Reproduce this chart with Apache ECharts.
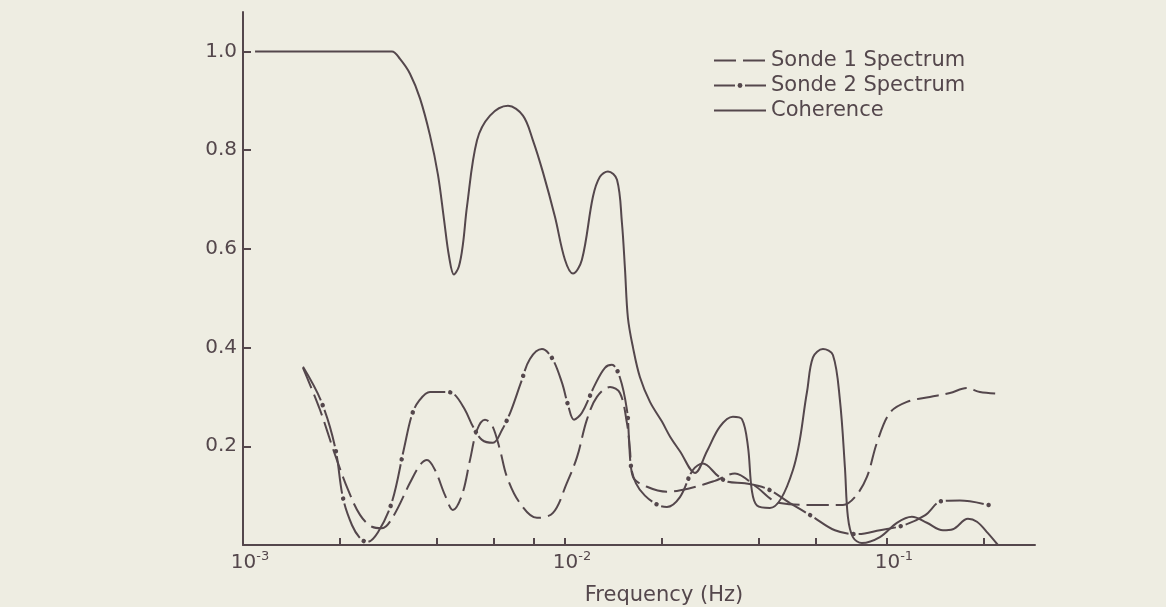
<!DOCTYPE html>
<html>
<head>
<meta charset="utf-8">
<script src="https://cdn.jsdelivr.net/npm/echarts@6/dist/echarts.min.js"></script>
<style>
  html, body { margin: 0; padding: 0; background: #eeede2; }
  #chart { width: 1166px; height: 607px; }
</style>
</head>
<body>
<div id="chart"></div>
<script>
// Frequencies in Hz, values dimensionless (spectra normalised, coherence 0..1)
const coherenceFreq = [0.00109, 0.0029, 0.003073, 0.003301, 0.003546, 0.003809, 0.004033, 0.00421, 0.004364, 0.004521,
  0.004686, 0.004822, 0.004963,
  0.005332, 0.00585, 0.006653, 0.007406, 0.007953, 0.008546, 0.00931, 0.0100, 0.01059, 0.01129,
  0.01222, 0.01284, 0.0136, 0.01451, 0.01503, 0.01536, 0.01569, 0.01627, 0.0171, 0.01837,
  0.02001, 0.02119, 0.02276, 0.02534, 0.02761, 0.03029, 0.03324, 0.03545, 0.03701, 0.03807,
  0.03948, 0.04331, 0.05107, 0.05646, 0.05893, 0.06329, 0.06797, 0.07145, 0.07405, 0.07566,
  0.07841, 0.08362, 0.09513, 0.1074, 0.1196, 0.1331, 0.1493, 0.1603, 0.1785, 0.1904,
  0.2059, 0.2212];
const coherence = [1.0, 1.0, 0.985, 0.955, 0.905, 0.83, 0.75, 0.66, 0.585, 0.548,
  0.565, 0.61, 0.686,
  0.82, 0.87, 0.89, 0.87, 0.82, 0.755, 0.665, 0.578, 0.55, 0.578,
  0.706, 0.746, 0.757, 0.74, 0.653, 0.56, 0.46, 0.40, 0.34, 0.29,
  0.25, 0.22, 0.19, 0.146, 0.19, 0.24, 0.26, 0.255, 0.20, 0.11,
  0.08, 0.075, 0.152, 0.31, 0.38, 0.397, 0.385, 0.294, 0.158, 0.057,
  0.016, 0.004, 0.016, 0.045, 0.057, 0.045, 0.03, 0.032, 0.053, 0.047,
  0.024, 0.0];

const sonde1Freq = [0.001536, 0.001734, 0.001931, 0.002119, 0.002309, 0.002516, 0.002702, 0.002922, 0.003301, 0.003546,
  0.003728, 0.003948, 0.00424, 0.004488, 0.004787, 0.00507, 0.005332, 0.005645, 0.005934, 0.006283,
  0.006606, 0.007246, 0.008185, 0.009178, 0.01014, 0.0109, 0.0117, 0.01257, 0.0138, 0.01482,
  0.01558, 0.01592, 0.01627, 0.01798, 0.02074, 0.02444, 0.02923, 0.03373, 0.0389, 0.04652,
  0.06063, 0.07299, 0.07955, 0.08669, 0.0931, 0.1022, 0.1154, 0.136, 0.1569, 0.1772,
  0.1945, 0.2276];
const sonde1 = [0.359, 0.274, 0.183, 0.112, 0.061, 0.037, 0.034, 0.057, 0.126, 0.162,
  0.172, 0.152, 0.101, 0.071, 0.101, 0.172, 0.233, 0.254, 0.243, 0.193,
  0.138, 0.085, 0.055, 0.065, 0.126, 0.178, 0.254, 0.30, 0.32, 0.308,
  0.247, 0.193, 0.138, 0.118, 0.108, 0.115, 0.13, 0.145, 0.12, 0.085,
  0.081, 0.081, 0.097, 0.138, 0.207, 0.268, 0.29, 0.30, 0.308, 0.318,
  0.31, 0.306];

const sonde2Freq = [0.001536, 0.001747, 0.001931, 0.002045, 0.002181, 0.002309, 0.002427, 0.002626, 0.002901, 0.003162,
  0.003348, 0.003521, 0.003809, 0.00424, 0.004521, 0.004891, 0.005179, 0.005525, 0.005977, 0.006374,
  0.006797, 0.007299, 0.007784, 0.008483, 0.009113, 0.009788, 0.01022, 0.01067, 0.01129, 0.0124,
  0.01331, 0.0140, 0.01482, 0.01558, 0.0158, 0.01603, 0.01662, 0.01772, 0.01945, 0.02074,
  0.02276, 0.02497, 0.02683, 0.02987, 0.03208, 0.03622, 0.0424, 0.04999, 0.05893, 0.06895,
  0.0807, 0.09513, 0.1129, 0.1312, 0.1482, 0.1685, 0.2134];
const sonde2 = [0.361, 0.292, 0.199, 0.095, 0.04, 0.014, 0.006, 0.026, 0.087, 0.195,
  0.264, 0.292, 0.31, 0.31, 0.306, 0.274, 0.24, 0.213, 0.207, 0.233,
  0.272, 0.329, 0.377, 0.397, 0.379, 0.329, 0.284, 0.254, 0.268, 0.325,
  0.359, 0.365, 0.339, 0.274, 0.219, 0.16, 0.125, 0.10, 0.081, 0.077,
  0.097, 0.152, 0.165, 0.14, 0.128, 0.125, 0.114, 0.085, 0.057, 0.03,
  0.022, 0.03, 0.04, 0.06, 0.089, 0.09, 0.079];

// Axis marks
const decadeLabels = [0.001, 0.01, 0.1];
const minorTicks = [0.002, 0.004, 0.006, 0.008, 0.01, 0.02, 0.04, 0.06, 0.1, 0.2];
const yTicks = [0.2, 0.4, 0.6, 0.8, 1.0];

const ink = '#54474c';
const fontFamily = '"DejaVu Sans", "Liberation Sans", sans-serif';

// x axis runs in log10(frequency)
const toLog = (freqs, vals) => freqs.map((f, i) => [Math.log10(f), vals[i]]);

const chart = echarts.init(document.getElementById('chart'), null, { renderer: 'canvas' });

const option = {
  backgroundColor: '#eeede2',
  animation: false,
  textStyle: { fontFamily: fontFamily, color: ink },
  grid: { left: 243, right: 131, top: 12, bottom: 62, containLabel: false, outerBoundsMode: 'none' },
  legend: {
    orient: 'vertical',
    left: 713,
    top: 48,
    padding: 0,
    itemWidth: 52,
    itemHeight: 6,
    itemGap: 0,
    selectedMode: false,
    textStyle: { fontFamily: fontFamily, fontSize: 21, color: ink, lineHeight: 25 },
    data: [
      { name: 'Sonde 1 Spectrum', lineStyle: { type: [22, 7] }, itemStyle: { color: 'rgba(0,0,0,0)', borderWidth: 0 } },
      { name: 'Sonde 2 Spectrum', lineStyle: { type: [21, 10] }, itemStyle: { color: ink, borderWidth: 0 } },
      { name: 'Coherence', lineStyle: { type: 'solid' }, itemStyle: { color: 'rgba(0,0,0,0)', borderWidth: 0 } }
    ]
  },
  xAxis: {
    type: 'value',
    min: -3,
    max: -0.54,
    name: 'Frequency (Hz)',
    nameLocation: 'middle',
    nameGap: 40,
    nameTextStyle: { fontFamily: fontFamily, fontSize: 21, color: ink, padding: [0, 0, 0, 50] },
    axisLine: { show: true, onZero: false, lineStyle: { color: ink, width: 2 } },
    axisTick: {
      show: true, inside: true, length: 7,
      customValues: minorTicks.map(v => Math.log10(v)),
      lineStyle: { color: ink, width: 2 }
    },
    axisLabel: {
      show: true,
      margin: 5,
      customValues: decadeLabels.map(v => Math.log10(v)),
      formatter: v => '{p|}{b|10}{s|' + Math.round(v) + '}',
      rich: {
        p: { width: 14 },
        b: { fontFamily: fontFamily, fontSize: 20, color: ink, lineHeight: 26 },
        s: { fontFamily: fontFamily, fontSize: 13, color: ink, verticalAlign: 'top', lineHeight: 18 }
      }
    },
    splitLine: { show: false }
  },
  yAxis: {
    type: 'value',
    min: 0,
    max: 1.08,
    axisLine: { show: true, lineStyle: { color: ink, width: 2 } },
    axisTick: {
      show: true, inside: true, length: 8,
      customValues: yTicks,
      lineStyle: { color: ink, width: 2 }
    },
    axisLabel: {
      show: true,
      margin: 6,
      customValues: yTicks,
      formatter: v => v.toFixed(1),
      fontFamily: fontFamily, fontSize: 20, color: ink
    },
    splitLine: { show: false }
  },
  series: [
    {
      name: 'Sonde 1 Spectrum',
      type: 'line',
      data: toLog(sonde1Freq, sonde1),
      smooth: 0.35,
      symbol: 'none',
      lineStyle: { color: ink, width: 2, type: [22, 7] },
      itemStyle: { color: ink },
      z: 3
    },
    {
      name: 'Sonde 2 Spectrum',
      type: 'line',
      data: toLog(sonde2Freq, sonde2),
      smooth: 0.35,
      symbol: 'none',
      lineStyle: { color: ink, width: 2, type: [38, 10] },
      itemStyle: { color: ink },
      z: 3
    },
    {
      // dots sitting in the gaps of the dash-dot line
      name: 'Sonde 2 dots',
      type: 'line',
      data: toLog(sonde2Freq, sonde2),
      smooth: 0.35,
      symbol: 'none',
      lineStyle: { color: ink, width: 4.5, cap: 'round', type: [0.01, 47.99], dashOffset: 5 },
      z: 4
    },
    {
      name: 'Coherence',
      type: 'line',
      data: toLog(coherenceFreq, coherence),
      smooth: 0.35,
      symbol: 'none',
      lineStyle: { color: ink, width: 2 },
      itemStyle: { color: ink },
      z: 3
    }
  ]
};
chart.setOption(option);
</script>
</body>
</html>
